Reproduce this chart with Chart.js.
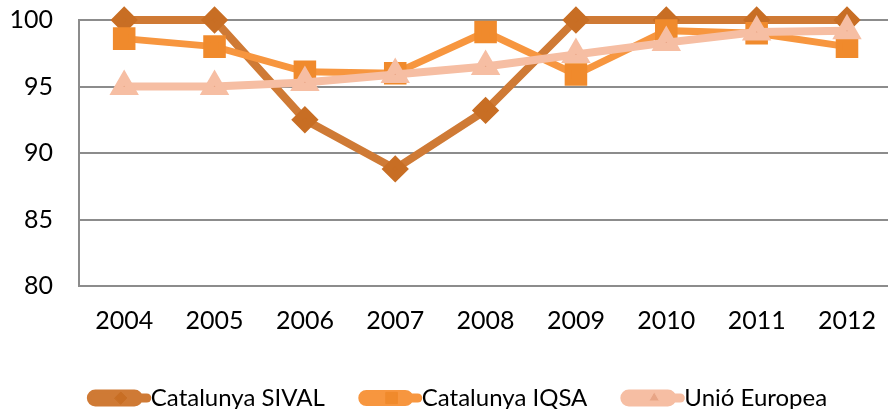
<!DOCTYPE html>
<html>
<head>
<meta charset="utf-8">
<script src="https://cdn.jsdelivr.net/npm/chart.js@4"></script>
<style>
  html, body { margin: 0; padding: 0; background: #fff; overflow: hidden; }
  #wrap { width: 896px; height: 409px; }
</style>
</head>
<body>
<div id="wrap"><canvas id="chart" width="896" height="409"></canvas></div>
<script>
const years = ['2004', '2005', '2006', '2007', '2008', '2009', '2010', '2011', '2012'];
const sival = [100, 100, 92.5, 88.8, 93.2, 100, 100, 100, 100];
const iqsa = [98.6, 98.0, 96.1, 96.0, 99.1, 95.9, 99.2, 99.0, 98.0];
const ue = [95.0, 95.0, 95.3, 95.9, 96.5, 97.4, 98.3, 99.1, 99.2];
const yTicks = [80, 85, 90, 95, 100];

const font = { family: 'Lato', size: 25 };
const legendRadius = { rectRot: 6, rect: 8, triangle: 6 };

// legend: longer line sample plus the series marker in the middle
const legendMarkers = {
  id: 'legendMarkers',
  afterLayout(chart) {
    // the legend sits a bit right of centre in the original
    chart.legend.left += 11;
    chart.legend.right += 11;
  },
  afterDraw(chart) {
    const legend = chart.legend;
    if (!legend || !legend.legendHitBoxes) return;
    const ctx = chart.ctx;
    legend.legendHitBoxes.forEach((box, i) => {
      const ds = chart.data.datasets[legend.legendItems[i].datasetIndex];
      const cy = box.top + box.height / 2;
      ctx.save();
      ctx.strokeStyle = ds.borderColor;
      ctx.lineWidth = 9;
      ctx.lineCap = 'round';
      ctx.beginPath();
      ctx.moveTo(box.left + 4.5, cy);
      ctx.lineTo(box.left + 56, cy);
      ctx.stroke();
      ctx.lineWidth = 1;
      ctx.fillStyle = ds.pointBackgroundColor;
      ctx.strokeStyle = ds.pointBorderColor;
      Chart.helpers.drawPoint(ctx, {
        pointStyle: ds.pointStyle,
        radius: legendRadius[ds.pointStyle],
        rotation: 0,
        borderWidth: 1
      }, box.left + 30, cy);
      ctx.restore();
    });
  }
};

new Chart(document.getElementById('chart'), {
  type: 'line',
  data: {
    labels: years,
    datasets: [
      {
        label: 'Catalunya SIVAL',
        data: sival,
        borderColor: '#CF7A35',
        backgroundColor: '#CF7A35',
        borderWidth: 8,
        pointStyle: 'rectRot',
        pointRadius: 8,
        pointBackgroundColor: '#C86E24',
        pointBorderColor: '#C86E24',
        clip: false,
        order: 3
      },
      {
        label: 'Catalunya IQSA',
        data: iqsa,
        borderColor: '#F7963F',
        backgroundColor: '#F7963F',
        borderWidth: 7,
        pointStyle: 'rect',
        pointRadius: 11,
        pointBackgroundColor: '#F08A2C',
        pointBorderColor: '#F08A2C',
        clip: false,
        order: 2
      },
      {
        label: 'Unió Europea',
        data: ue,
        borderColor: '#F6BEA3',
        backgroundColor: '#F6BEA3',
        borderWidth: 8,
        pointStyle: 'triangle',
        pointRadius: 9,
        pointBackgroundColor: '#E8A586',
        pointBorderColor: '#F6BEA3',
        clip: false,
        order: 1
      }
    ]
  },
  options: {
    responsive: false,
    animation: false,
    layout: { autoPadding: false, padding: { left: 0, top: 0, right: 0, bottom: -11 } },
    plugins: {
      tooltip: { enabled: false },
      legend: {
        position: 'bottom',
        labels: {
          font: { family: 'Lato', size: 24 },
          color: '#000',
          boxWidth: 48,
          boxHeight: 9,
          useBorderRadius: true,
          borderRadius: 4.5,
          padding: 37,
          sort: (a, b) => a.datasetIndex - b.datasetIndex
        }
      }
    },
    scales: {
      x: {
        offset: true,
        afterFit: axis => { axis.height -= 7; },
        grid: { display: false, drawTicks: false },
        border: { display: false },
        ticks: { font: font, color: '#000', padding: 20, maxRotation: 0 }
      },
      y: {
        min: 80,
        max: 100,
        afterBuildTicks: axis => { axis.ticks = yTicks.map(v => ({ value: v })); },
        afterFit: axis => { axis.width = 79; axis.paddingTop = 20; axis.paddingBottom = 0; },
        grid: { color: '#8C8C8C', lineWidth: 2, drawTicks: false },
        border: { color: '#8C8C8C', width: 2 },
        ticks: { font: font, color: '#000', padding: 26 }
      }
    }
  },
  plugins: [legendMarkers]
});
</script>
</body>
</html>
